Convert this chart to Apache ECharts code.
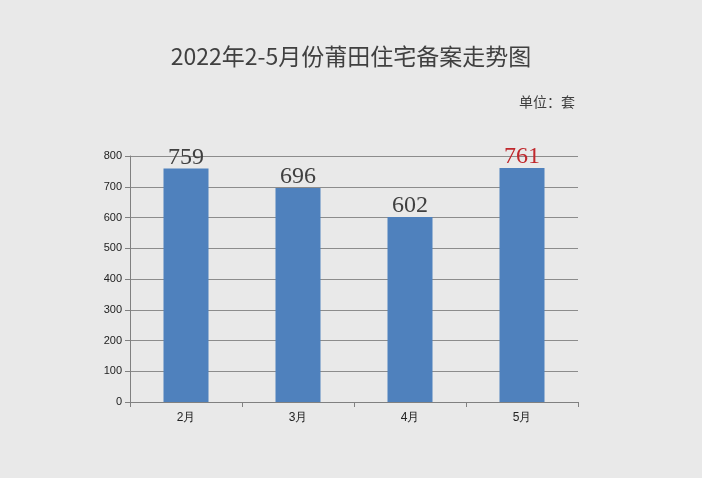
<!DOCTYPE html>
<html><head><meta charset="utf-8">
<script src="https://cdn.jsdelivr.net/npm/echarts@6/dist/echarts.min.js"></script>
<style>html,body{margin:0;padding:0;background:#e9e9e9}#c{width:702px;height:478px}</style>
</head><body><div id="c"></div>
<script>
const categories = ['2月','3月','4月','5月'];
const values = [759, 696, 602, 761];
const labelColors = ['#404040','#404040','#404040','#c0282d'];
const chart = echarts.init(document.getElementById('c'));
chart.setOption({
  backgroundColor: '#e9e9e9',
  title: [{text: '2022年2-5月份莆田住宅备案走势图', left: 'center', top: 40,
    textStyle: {fontSize: 23, fontWeight: 'normal', color: '#404040', fontFamily: 'Noto Sans CJK SC'}},
    {text: '单位：套', left: 514, top: 90, textStyle: {fontSize: 14, fontWeight: 'normal', color: '#404040', fontFamily: 'Noto Sans CJK SC'}}],
  grid: {left: 130, right: 124, top: 156, bottom: 76},
  xAxis: {type: 'category', data: categories,
    axisLine: {lineStyle: {color: '#808080'}}, axisTick: {show: true, lineStyle: {color: '#808080'}},
    axisLabel: {color: '#222', fontSize: 12, margin: 10}},
  yAxis: {type: 'value', min: 0, max: 800, interval: 100,
    axisLine: {show: true, lineStyle: {color: '#808080'}}, axisTick: {show: true, lineStyle: {color: '#808080'}},
    splitLine: {lineStyle: {color: '#8c8c8c', width: 1}},
    axisLabel: {color: '#222', fontSize: 11}},
  series: [{type: 'bar', barWidth: 45,
    data: values.map((v, i) => ({value: v, label: {color: labelColors[i]}})),
    itemStyle: {color: '#4f81bd'},
    label: {show: true, position: 'top', distance: -1, fontSize: 24, fontFamily: 'Liberation Serif'}}]
});
</script></body></html>
